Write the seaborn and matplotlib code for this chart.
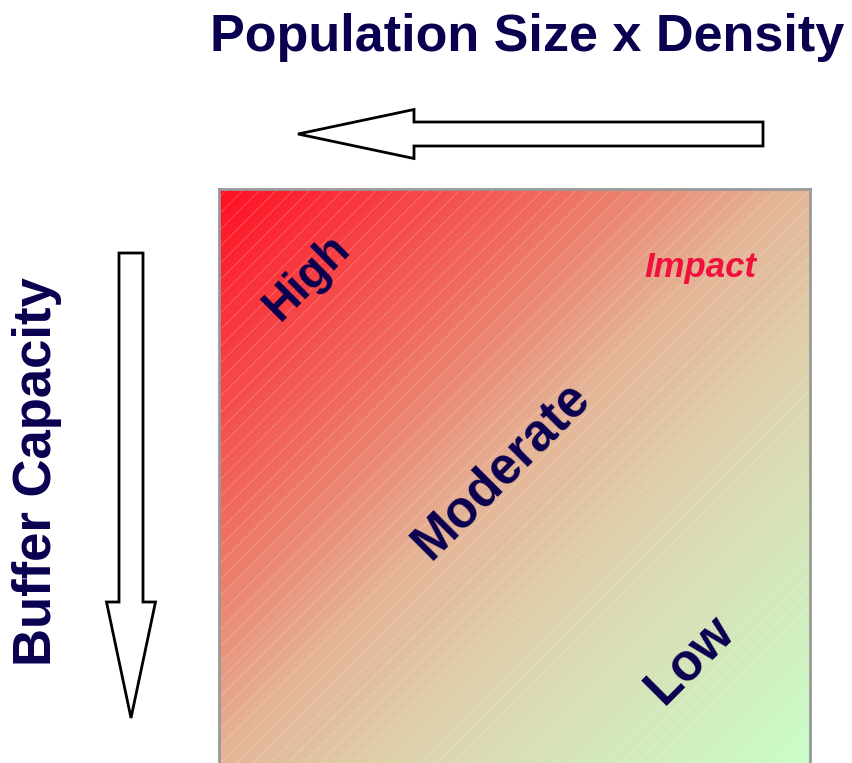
import numpy as np
import seaborn as sns
import matplotlib.pyplot as plt
from matplotlib.colors import LinearSegmentedColormap
from matplotlib.patches import FancyArrow, Rectangle

# labels of the diagram
title_text = "Population Size x Density"
side_text = "Buffer Capacity"
impact_levels = ["High", "Moderate", "Low"]
impact_label = "Impact"

# gradient stops, from high impact (top left) to low impact (bottom right)
stop_pos = [0.0, 0.28, 0.48, 0.67, 1.0]
stop_col = ["#ff0f23", "#f06a5c", "#e4b496", "#dcd6b0", "#c8ffc8"]

navy = "#0a0050"
W, H = 853, 763

sns.set_style("white")
plt.rcParams["font.family"] = ["Liberation Sans", "DejaVu Sans"]

fig = plt.figure(figsize=(W / 100, H / 100), dpi=100)

# impact square, drawn as a heatmap of a diagonal gradient
n = 200
grid = np.add.outer(np.arange(n), np.arange(n)) / (2 * (n - 1))
cmap = LinearSegmentedColormap.from_list("impact", list(zip(stop_pos, stop_col)))
sq_left, sq_top, sq_size = 219, 189, 591
ax_sq = fig.add_axes([sq_left / W, (H - sq_top - sq_size) / H, sq_size / W, sq_size / H])
sns.heatmap(grid, ax=ax_sq, cmap=cmap, cbar=False, xticklabels=False, yticklabels=False,
            vmin=0, vmax=1, rasterized=True)
for s in ax_sq.spines.values():
    s.set_visible(True)
    s.set_color("#999999")
    s.set_linewidth(2)
plt.rcParams["hatch.linewidth"] = 0.6
ax_sq.add_patch(Rectangle((0, 0), 1, 1, transform=ax_sq.transAxes, fill=False,
                          hatch="//", edgecolor=(1, 1, 1, 0.25), lw=0))

# overlay in pixel coordinates for text and arrows
ax = fig.add_axes([0, 0, 1, 1], facecolor="none")
ax.set_xlim(0, W)
ax.set_ylim(H, 0)
ax.axis("off")

ax.text(527, 38, title_text, ha="center", va="center", fontsize=37.5, fontweight="bold",
        color=navy)
ax.text(37, 472, side_text, ha="center", va="center", rotation=90, fontsize=38,
        fontweight="bold", color=navy)

ax.add_patch(FancyArrow(763, 134, -465, 0, width=24, head_width=49, head_length=116,
                        length_includes_head=True, facecolor="white", edgecolor="black", lw=2))
ax.add_patch(FancyArrow(131, 253, 0, 465, width=24, head_width=49, head_length=116,
                        length_includes_head=True, facecolor="white", edgecolor="black", lw=2))

level_pos = [(307, 277), (501, 470), (690, 660)]
level_size = [33, 37, 37]
for lab, (x, y), fs in zip(impact_levels, level_pos, level_size):
    ax.text(x, y, lab, ha="center", va="center", rotation=45, fontsize=fs,
            fontweight="bold", color=navy)
ax.text(700, 268, impact_label, ha="center", va="center", fontsize=25,
        fontweight="bold", style="italic", color="#f0103c")

fig.savefig("out.png", dpi=100)
